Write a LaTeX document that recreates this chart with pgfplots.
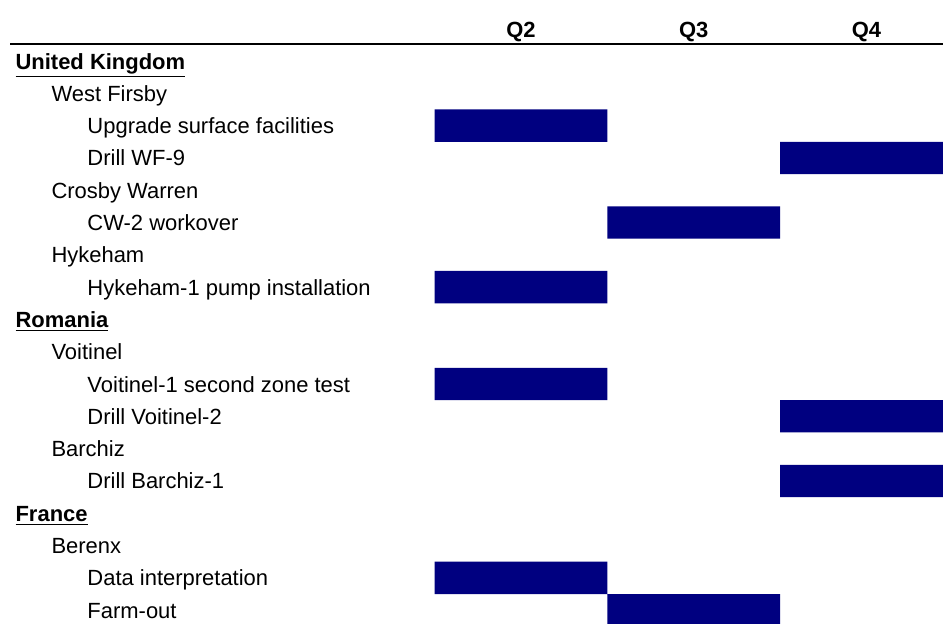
\documentclass[border=0pt]{standalone}
\usepackage{fontspec}
\setmainfont{Liberation Sans}
\usepackage{pgfplots}
\usepackage{pgfplotstable}
\pgfplotsset{compat=1.18}
\definecolor{navy}{RGB}{0,0,128}
\pgfplotstableread{
row start dur
3  1 1
4  3 1
6  2 1
8  1 1
11 1 1
12 3 1
14 3 1
17 1 1
18 2 1
}\tasks
\begin{document}
\begin{tikzpicture}
\begin{axis}[
  scale only axis, width=472pt, height=290pt,
  xmin=-1.5145, xmax=3.942, ymin=0.471, ymax=18.40, y dir=reverse,
  xbar stacked, bar width=1,
  axis line style={draw=none}, major tick length=0pt,
  clip mode=individual,
  xtick={1.5,2.5,3.5}, xticklabels={Q2,Q3,Q4}, xticklabel pos=right,
  xticklabel style={font=\fontsize{11}{13}\selectfont\bfseries, anchor=base, inner sep=0pt, yshift=3.2pt},
  ytick={1,...,18},
  yticklabels={
    \underline{\textbf{United Kingdom}},
    \hspace*{18pt}West Firsby,
    \hspace*{36pt}Upgrade surface facilities,
    \hspace*{36pt}Drill WF-9,
    \hspace*{18pt}Crosby Warren,
    \hspace*{36pt}CW-2 workover,
    \hspace*{18pt}Hykeham,
    \hspace*{36pt}Hykeham-1 pump installation,
    \underline{\textbf{Romania}},
    \hspace*{18pt}Voitinel,
    \hspace*{36pt}Voitinel-1 second zone test,
    \hspace*{36pt}Drill Voitinel-2,
    \hspace*{18pt}Barchiz,
    \hspace*{36pt}Drill Barchiz-1,
    \underline{\textbf{France}},
    \hspace*{18pt}Berenx,
    \hspace*{36pt}Data interpretation,
    \hspace*{36pt}Farm-out},
  yticklabel style={font=\fontsize{11}{13}\selectfont, anchor=base west, inner sep=0pt, xshift=7.5pt, yshift=-4.0pt},
]
\addplot[draw=none, fill=none] table[x=start, y=row] {\tasks};
\addplot[draw=none, fill=navy] table[x=dur, y=row] {\tasks};
\draw[line width=1.2pt] (axis cs:-1.4567,0.471) -- (axis cs:3.942,0.471);
\end{axis}
\useasboundingbox (current axis.south west) rectangle ([yshift=22pt]current axis.north east);
\end{tikzpicture}
\end{document}
